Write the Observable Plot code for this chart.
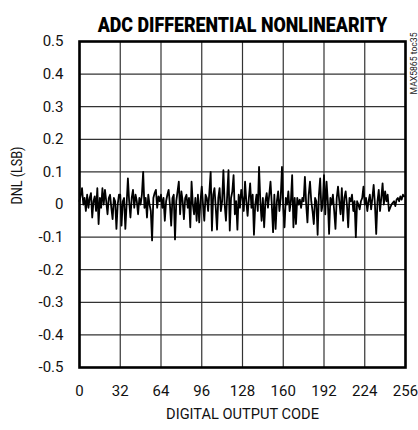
<!DOCTYPE html>
<html>
<head>
<meta charset="utf-8">
<script src="https://cdn.jsdelivr.net/npm/d3@7"></script>
<script src="https://cdn.jsdelivr.net/npm/@observablehq/plot@0.6"></script>
<style>
  html, body { margin: 0; padding: 0; background: #fff; }
  #chart svg { display: block; }
</style>
</head>
<body>
<div id="chart"></div>
<script>
const chartTitle = "ADC DIFFERENTIAL NONLINEARITY";
const xTitle = "DIGITAL OUTPUT CODE";
const yTitle = "DNL (LSB)";
const sideNote = "MAX5865 toc35";
const xTicks = [0, 32, 64, 96, 128, 160, 192, 224, 256];
const yTicks = [-0.5, -0.4, -0.3, -0.2, -0.1, 0, 0.1, 0.2, 0.3, 0.4, 0.5];

// DNL per output code 0..255 (LSB)
const dnl = [
  0.01, 0.03, 0.05, 0.00, 0.02, -0.02, 0.03, -0.01, 0.02, 0.035, -0.04, 0.01, 0.025, -0.02, 0.05, -0.06,
  0.02, -0.01, 0.05, 0.00, 0.045, 0.01, -0.03, 0.02, 0.03, -0.01, -0.045, 0.02, 0.01, -0.075, 0.00, 0.03,
  0.03, -0.065, 0.01, 0.02, -0.075, 0.00, 0.08, 0.01, -0.04, 0.02, 0.045, -0.01, 0.03, 0.01, -0.03, 0.02,
  0.00, 0.03, 0.10, -0.01, 0.02, -0.04, 0.03, 0.00, -0.02, -0.11, 0.02, 0.035, 0.045, -0.01, 0.025, 0.01,
  0.03, -0.01, 0.02, -0.05, 0.01, 0.03, 0.045, 0.00, -0.065, 0.02, 0.03, -0.107, 0.01, 0.04, 0.07, -0.03,
  0.04, 0.01, -0.045, 0.02, 0.03, -0.01, 0.02, -0.07, 0.07, 0.00, -0.03, 0.02, -0.05, 0.03, -0.055, 0.01,
  0.055, 0.00, -0.05, 0.03, 0.02, -0.02, 0.04, 0.10, -0.08, 0.03, 0.05, -0.01, -0.077, 0.02, 0.05, -0.02,
  0.01, 0.105, 0.00, -0.05, 0.03, 0.105, -0.08, 0.02, 0.04, 0.09, -0.03, 0.01, -0.077, 0.03, -0.01, 0.045,
  0.02, -0.02, 0.07, 0.01, -0.035, 0.02, 0.065, -0.01, 0.03, -0.093, 0.00, 0.03, -0.02, 0.115, 0.01, -0.05,
  0.02, -0.07, 0.01, 0.035, -0.01, 0.03, 0.07, 0.00, -0.085, 0.03, -0.075, 0.01, 0.04, -0.02, 0.02, 0.115,
  -0.01, -0.07, 0.02, 0.00, 0.04, -0.02, 0.01, 0.09, -0.07, 0.02, -0.06, 0.02, 0.00, 0.015, -0.01, 0.02,
  0.01, 0.085, 0.00, -0.055, 0.03, 0.07, 0.01, -0.02, -0.06, 0.02, 0.01, -0.093, 0.03, 0.08, -0.02, 0.00,
  0.09, -0.03, 0.07, 0.01, -0.09, 0.02, 0.00, 0.03, -0.02, -0.075, 0.02, 0.055, 0.01, -0.03, 0.05, -0.05,
  0.02, 0.04, 0.00, -0.07, 0.02, 0.01, 0.03, -0.02, 0.01, -0.10, 0.01, 0.00, -0.015, 0.01, 0.02, 0.055,
  0.00, 0.02, -0.02, 0.01, 0.03, -0.015, 0.02, 0.06, 0.00, -0.09, 0.01, 0.045, -0.02, 0.02, 0.065, 0.00,
  0.04, 0.01, 0.03, -0.02, -0.01, 0.00, 0.005, 0.01, -0.005, 0.015, 0.02, 0.01, 0.025, 0.015, 0.03, 0.025
];

const data = dnl.map((v, i) => ({code: i, dnl: v}));
const font = "Roboto, 'Liberation Sans', sans-serif";

const chart = Plot.plot({
  width: 418,
  height: 430,
  marginTop: 41,
  marginRight: 13,
  marginBottom: 63,
  marginLeft: 79,
  style: {fontFamily: font, fontSize: "15px", color: "#111", background: "#fff"},
  x: {domain: [0, 256], ticks: xTicks, tickSize: 0, tickPadding: 18, label: null},
  y: {domain: [-0.5, 0.5], ticks: yTicks, tickSize: 0, tickPadding: 16, label: null,
      tickFormat: d => d === 0 ? "0" : d.toFixed(1)},
  marks: [
    Plot.gridX(xTicks, {stroke: "#333", strokeOpacity: 1, strokeWidth: 1.2}),
    Plot.gridY(yTicks, {stroke: "#333", strokeOpacity: 1, strokeWidth: 1.2}),
    Plot.line(data, {x: "code", y: "dnl", stroke: "#000", strokeWidth: 1.8, strokeLinejoin: "round"}),
    Plot.frame({stroke: "#000", strokeWidth: 2.6}),
    Plot.text([chartTitle], {frameAnchor: "top", dy: -24, fontSize: 20, fontWeight: 900, fill: "#000"}),
    Plot.text([xTitle], {frameAnchor: "bottom", dy: 51, fontSize: 15, fill: "#111"}),
    Plot.text([yTitle], {frameAnchor: "left", dx: -62, rotate: -90, fontSize: 15, fill: "#111"}),
    Plot.text([sideNote], {frameAnchor: "top-right", dx: 5, dy: -9, rotate: -90, textAnchor: "end", fontSize: 8.5, fill: "#222"})
  ]
});
document.getElementById("chart").append(chart);

// condense the texts horizontally to the reference's narrow typeface widths
const widths = new Map([[chartTitle, 290], [xTitle, 153], [yTitle, 58], [sideNote, 62]]);
d3.select(chart).selectAll("text").each(function() {
  const t = this.textContent;
  if (widths.has(t)) {
    const natural = this.getComputedTextLength();
    const s = natural > 0 ? widths.get(t) / natural : 1;
    const tr = this.getAttribute("transform") || "";
    this.setAttribute("transform", (tr + ` scale(${s.toFixed(4)},1)`).trim());
  }
});
</script>
</body>
</html>
